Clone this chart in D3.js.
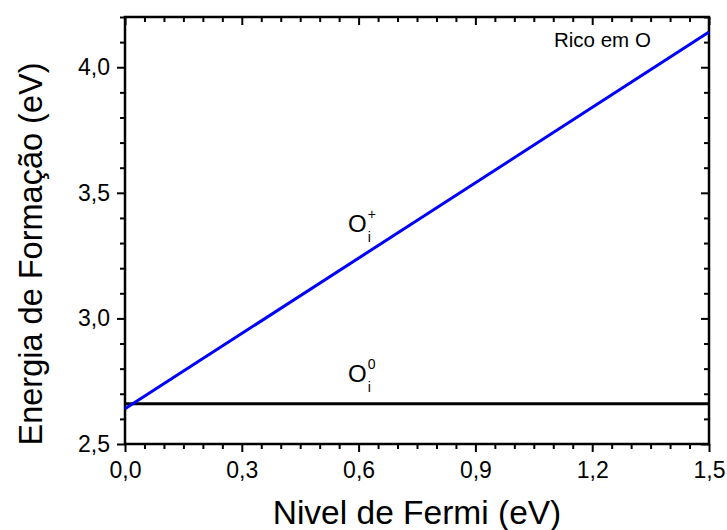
<!DOCTYPE html>
<html><head><meta charset="utf-8">
<script src="https://cdn.jsdelivr.net/npm/d3@7"></script>
<style>body{margin:0;background:#fff}svg{display:block}text{font-family:Arial,"Liberation Sans",sans-serif}</style>
</head><body>
<svg id="c" width="727" height="530"></svg>
<script>
const fermi = [0, 1.5];
const oPlus = [2.64, 4.14];
const oZero = [2.66, 2.66];
const xTicks = [0, 0.3, 0.6, 0.9, 1.2, 1.5];
const yTicks = [2.5, 3.0, 3.5, 4.0];
const xLabel = "Nivel de Fermi (eV)";
const yLabel = "Energia de Formação (eV)";
const fmt = d => d3.format(".1f")(d).replace(".", ",");

const svg = d3.select("#c");
const L = 125, R = 709, T = 17, B = 444;
const x = d3.scaleLinear().domain([0, 1.5]).range([L, R]);
const y = d3.scaleLinear().domain([2.5, 4.2]).range([B, T]);

const xMinor = d3.range(0, 1.5001, 0.05).filter(v => !xTicks.some(t => Math.abs(t - v) < 1e-6));
const yMinor = d3.range(2.5, 4.2001, 0.1).filter(v => !yTicks.some(t => Math.abs(t - v) < 1e-6));

function styleAxis(g){
  g.select(".domain").remove();
  g.selectAll("line").attr("stroke","#000").attr("stroke-width",2);
  g.selectAll("text").attr("font-size",23).attr("fill","#000");
}
// bottom
svg.append("g").attr("transform",`translate(0,${B})`)
  .call(d3.axisBottom(x).tickValues(xTicks).tickFormat(fmt).tickSize(8).tickPadding(10))
  .call(styleAxis);
svg.append("g").attr("transform",`translate(0,${B})`)
  .call(d3.axisBottom(x).tickValues(xMinor).tickFormat("").tickSize(5)).call(styleAxis);
// top (inside)
svg.append("g").attr("transform",`translate(0,${T})`)
  .call(d3.axisBottom(x).tickValues(xTicks).tickFormat("").tickSize(8)).call(styleAxis);
svg.append("g").attr("transform",`translate(0,${T})`)
  .call(d3.axisBottom(x).tickValues(xMinor).tickFormat("").tickSize(5)).call(styleAxis);
// left
svg.append("g").attr("transform",`translate(${L},0)`)
  .call(d3.axisLeft(y).tickValues(yTicks).tickFormat(fmt).tickSize(8).tickPadding(7))
  .call(styleAxis);
svg.append("g").attr("transform",`translate(${L},0)`)
  .call(d3.axisLeft(y).tickValues(yMinor).tickFormat("").tickSize(5)).call(styleAxis);
// right (inside)
svg.append("g").attr("transform",`translate(${R},0)`)
  .call(d3.axisLeft(y).tickValues(yTicks).tickFormat("").tickSize(8)).call(styleAxis);
svg.append("g").attr("transform",`translate(${R},0)`)
  .call(d3.axisLeft(y).tickValues(yMinor).tickFormat("").tickSize(5)).call(styleAxis);

// frame
svg.append("rect").attr("x",L).attr("y",T).attr("width",R-L).attr("height",B-T)
  .attr("fill","none").attr("stroke","#000").attr("stroke-width",2.5);

const line = d3.line().x((d,i)=>x(fermi[i])).y(d=>y(d));
svg.append("path").datum(oZero).attr("d",line).attr("fill","none").attr("stroke","#000").attr("stroke-width",3);
svg.append("path").datum(oPlus).attr("d",line).attr("fill","none").attr("stroke","#0000ff").attr("stroke-width",3);

// labels
svg.append("text").attr("x",554).attr("y",47).attr("font-size",20.5).text("Rico em O");
function species(px, py, sup){
  const t = svg.append("text").attr("x",px).attr("y",py).attr("font-size",24);
  t.append("tspan").text("O");
  t.append("tspan").attr("font-size",14).attr("dx",1).attr("dy",10).text("i");
  t.append("tspan").attr("font-size",14).attr("dx",-3).attr("dy",-23).text(sup);
}
species(348, 232, "+");
species(348, 382, "0");

svg.append("text").attr("x",(L+R)/2).attr("y",524).attr("text-anchor","middle")
  .attr("font-size",33.5).text(xLabel);
svg.append("text").attr("transform",`translate(42,254) rotate(-90)`).attr("text-anchor","middle")
  .attr("font-size",32.5).text(yLabel);
</script>
</body></html>
